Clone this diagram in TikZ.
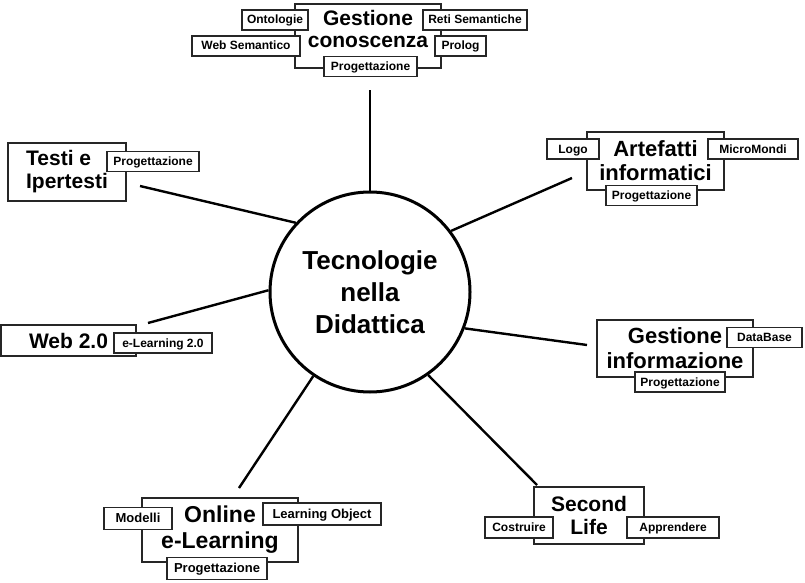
\documentclass[tikz,border=0pt]{standalone}
\usepackage{fontspec}
\setmainfont{Liberation Sans}
\usepackage{tikz}

\tikzset{
	topic/.style={draw=black!85, line width=1.5pt, fill=white, align=center, inner sep=0pt, font=\bfseries\fontsize{21}{23}\selectfont},
	tag/.style={draw=black!85, line width=1.5pt, fill=white, inner sep=0pt, minimum height=20pt, text height=9pt, text depth=1pt, font=\bfseries\fontsize{12}{14}\selectfont},
	bigtag/.style={tag, minimum height=22pt, text height=9.5pt, font=\bfseries\fontsize{13}{15}\selectfont},
	spoke/.style={line width=2.4pt},
}

\begin{document}
\begin{tikzpicture}[x=1pt,y=-1pt]
	\useasboundingbox (0,0) rectangle (805,583);

	% centro
	\node[draw, circle, line width=3pt, minimum size=200pt, inner sep=0pt, align=center, font=\bfseries\fontsize{26}{32}\selectfont] (hub) at (370,292) {Tecnologie\\nella\\Didattica};

	% Gestione conoscenza
	\node[topic, minimum width=146pt, minimum height=64pt, text depth=13.5pt, font=\bfseries\fontsize{21}{22}\selectfont] (gcon) at (368,36) {Gestione\\conoscenza};
	\node[tag, minimum width=66pt] (onto) at (275,20) {Ontologie};
	\node[tag, minimum width=104pt] (reti) at (475,20) {Reti Semantiche};
	\node[tag, minimum width=108pt] (websem) at (246,46) {Web Semantico};
	\node[tag, minimum width=51pt] (prolog) at (460.5,46) {Prolog};
	\node[tag, minimum width=93pt] (gconprog) at (370.5,66.5) {Progettazione};

	% Testi e Ipertesti
	\node[topic, minimum width=118pt, minimum height=58pt, align=left] (testi) at (67,172) {Testi e\\Ipertesti};
	\node[tag, minimum width=92pt] (testiprog) at (153,161.5) {Progettazione};

	% Artefatti informatici
	\node[topic, minimum width=137pt, minimum height=58pt, font=\bfseries\fontsize{22}{24}\selectfont] (artef) at (655.5,161) {Artefatti\\informatici};
	\node[tag, minimum width=52pt] (logo) at (573,149) {Logo};
	\node[tag, minimum width=90pt] (micro) at (753,149) {MicroMondi};
	\node[tag, minimum width=91pt] (artefprog) at (651.5,195.5) {Progettazione};

	% Web 2.0
	\node[topic, minimum width=135pt, minimum height=31pt] (web) at (68.5,340.5) {Web 2.0};
	\node[tag, minimum width=98pt] (elearn) at (163,343) {e-Learning 2.0};

	% Gestione informazione
	\node[topic, minimum width=156pt, minimum height=57pt, font=\bfseries\fontsize{22}{25}\selectfont] (ginf) at (675,348.5) {Gestione\\informazione};
	\node[tag, minimum width=75pt] (dbase) at (764.5,337.5) {DataBase};
	\node[tag, minimum width=90pt] (ginfprog) at (680,382) {Progettazione};

	% Online e-Learning
	\node[topic, minimum width=156pt, minimum height=64pt, font=\bfseries\fontsize{23}{26}\selectfont] (online) at (220,530) {Online\\e-Learning};
	\node[bigtag, minimum width=68pt] (modelli) at (138,518.5) {Modelli};
	\node[bigtag, minimum width=118pt] (lobj) at (322,514) {Learning Object};
	\node[bigtag, minimum width=100pt] (onlineprog) at (217,568.5) {Progettazione};

	% Second Life
	\node[topic, minimum width=110pt, minimum height=57pt] (second) at (589,515.5) {Second\\Life};
	\node[tag, minimum width=68pt, minimum height=21pt] (costr) at (519,527.5) {Costruire};
	\node[tag, minimum width=92pt, minimum height=21pt] (appr) at (673,527.5) {Apprendere};

	% raggi
	\coordinate (gconend) at (370,90);
	\coordinate (testiend) at (140,186);
	\coordinate (artefend) at (572,178);
	\coordinate (webend) at (148,323);
	\coordinate (ginfend) at (587,345);
	\coordinate (onlineend) at (239,488);
	\coordinate (secondend) at (537,485);

	\draw[spoke] (hub.90) -- (gconend);
	\draw[spoke] (hub.137) -- (testiend);
	\draw[spoke] (hub.37) -- (artefend);
	\draw[spoke] (hub.179) -- (webend);
	\draw[spoke] (hub.-21) -- (ginfend);
	\draw[spoke] (hub.-124) -- (onlineend);
	\draw[spoke] (hub.-55) -- (secondend);
\end{tikzpicture}
\end{document}
